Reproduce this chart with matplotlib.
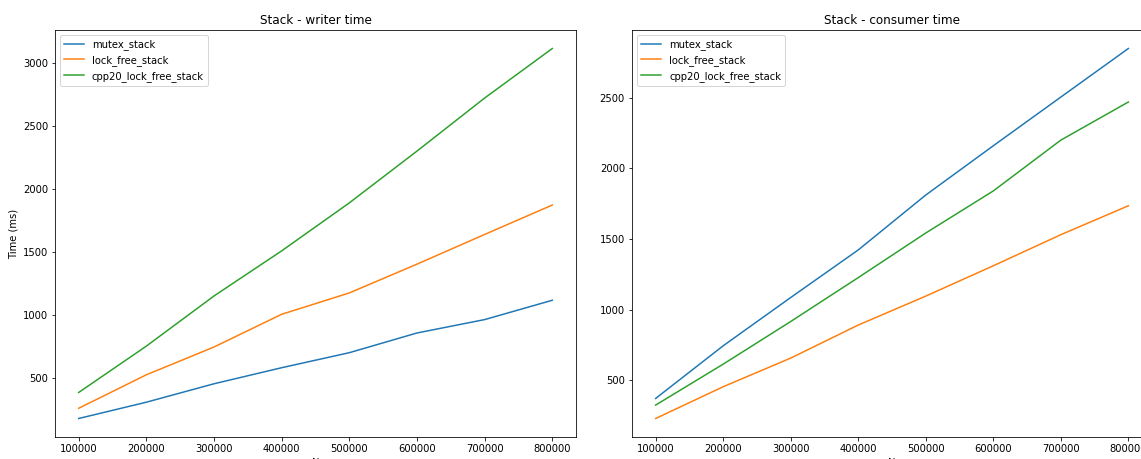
import numpy as np
import matplotlib
matplotlib.use('Agg')
import matplotlib.pyplot as plt

n = [100000, 200000, 300000, 400000, 500000, 600000, 700000, 800000]

# writer time (ms)
w_mutex = [183, 312, 458, 585, 704, 860, 966, 1119]
w_lock_free = [264, 529, 749, 1008, 1177, 1405, 1640, 1873]
w_cpp20 = [389, 756, 1153, 1510, 1890, 2300, 2720, 3112]

# consumer time (ms)
c_mutex = [370, 743, 1085, 1422, 1811, 2160, 2505, 2849]
c_lock_free = [228, 453, 656, 890, 1095, 1310, 1530, 1735]
c_cpp20 = [323, 613, 915, 1226, 1542, 1840, 2200, 2470]

labels = ['mutex_stack', 'lock_free_stack', 'cpp20_lock_free_stack']

fig = plt.figure(figsize=(1141 / 72, 459 / 72), dpi=72)
ax1 = fig.add_axes([55 / 1141, 22 / 459, 521 / 1141, 407 / 459])
ax2 = fig.add_axes([632 / 1141, 22 / 459, 520 / 1141, 407 / 459])

for ys, lab in zip([w_mutex, w_lock_free, w_cpp20], labels):
    ax1.plot(n, ys, label=lab)
ax1.set(xlabel='N', ylabel='Time (ms)', title='Stack - writer time')
ax1.legend(loc='upper left')

for ys, lab in zip([c_mutex, c_lock_free, c_cpp20], labels):
    ax2.plot(n, ys, label=lab)
ax2.set(xlabel='N', title='Stack - consumer time')
ax2.legend(loc='upper left')

plt.savefig('out.png', dpi=72)
